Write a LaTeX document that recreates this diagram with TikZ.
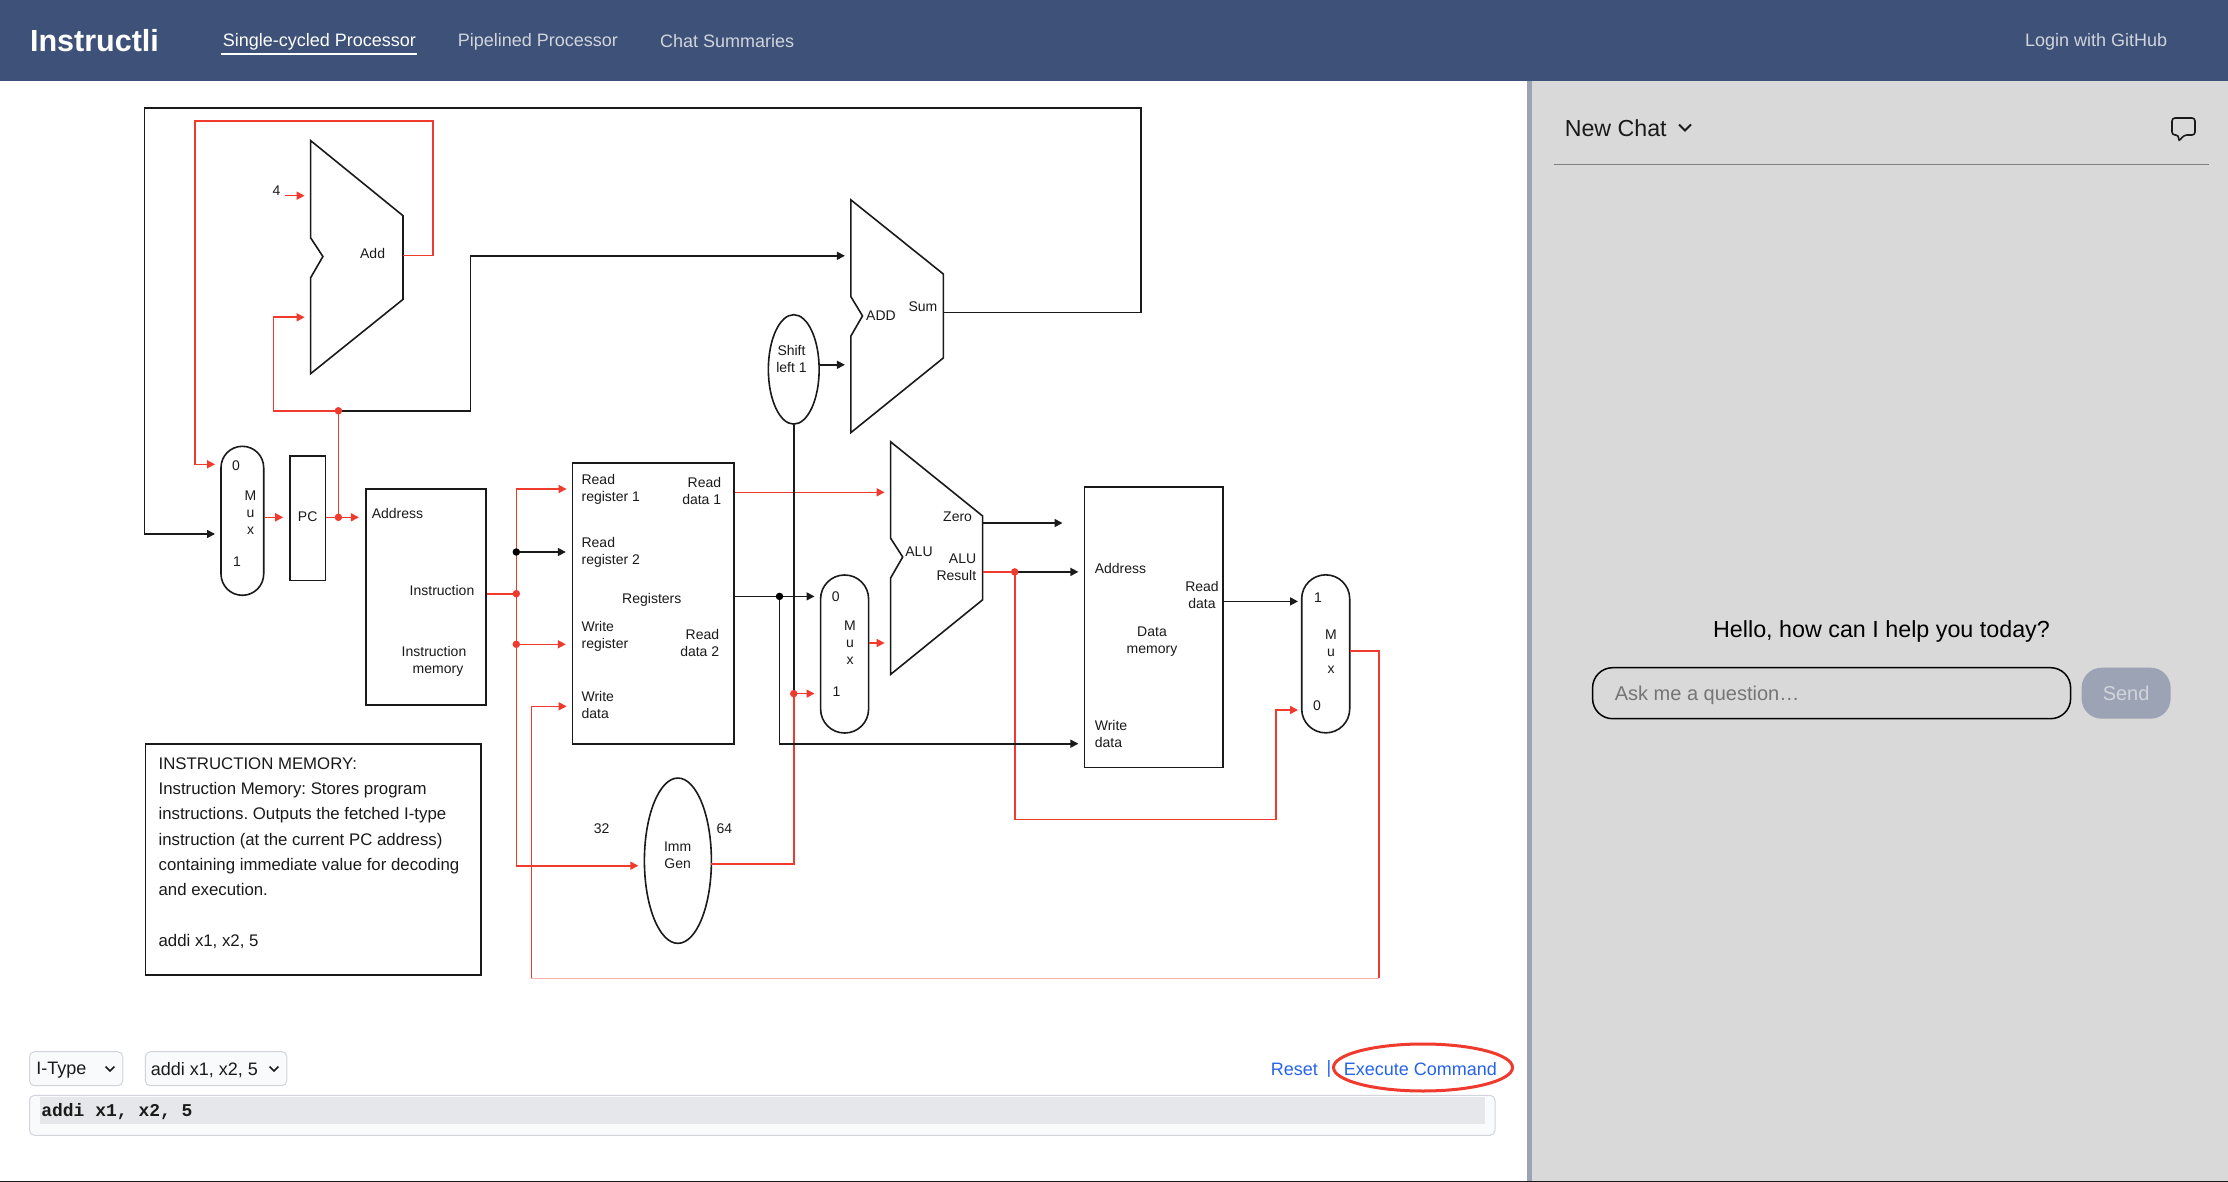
\documentclass[tikz,border=0pt]{standalone}
\usepackage{fontspec}
\setmainfont{Liberation Sans}
\setmonofont{Liberation Mono}
\frenchspacing
\usepackage{tikz}
\usetikzlibrary{arrows.meta,shapes.geometric}
\definecolor{ink}{HTML}{1A1A1A}
\definecolor{wirered}{HTML}{F03A2E}
\definecolor{palered}{HTML}{FFB0AA}
\definecolor{barblue}{HTML}{3D5179}
\definecolor{panegray}{HTML}{D9D9D9}
\definecolor{divider}{HTML}{9CA3B5}
\definecolor{navgray}{HTML}{D1D5DB}
\definecolor{linkblue}{HTML}{2563EB}
\definecolor{boxgray}{HTML}{F9FAFB}
\definecolor{boxline}{HTML}{D1D5DB}
\definecolor{codegray}{HTML}{E5E7EB}
\definecolor{hintgray}{HTML}{757575}

\begin{document}
\begin{tikzpicture}[x=1pt,y=-1pt,>={Triangle[length=8pt,width=8pt]},line width=1.6pt]
	\tikzstyle{block}=[draw=ink,rectangle,inner sep=0pt]
	\tikzstyle{mux}=[block,rounded corners=23.9pt,minimum width=48pt,minimum height=158pt]
	\tikzstyle{oval}=[draw=ink,ellipse,inner sep=0pt]
	\tikzstyle{lbl}=[inner sep=0pt,text=ink,align=center,font=\fontsize{14}{17}\selectfont]
	\tikzstyle{wire}=[draw=ink]
	\tikzstyle{redw}=[draw=wirered]
	\tikzstyle{arr}=[->,shorten >=6pt]
	\tikzstyle{dotr}=[fill=wirered,draw=none,circle,inner sep=0pt,minimum size=7.5pt]
	\tikzstyle{dotk}=[fill=black,draw=none,circle,inner sep=0pt,minimum size=7.5pt]
	\tikzstyle{ui}=[inner sep=0pt,font=\fontsize{18}{21}\selectfont]
	\tikzstyle{selbox}=[draw=boxline,fill=boxgray,rectangle,rounded corners=5pt,line width=1pt,inner sep=0pt,minimum height=34pt]

	\useasboundingbox (0,0) rectangle (2228,1182);
	\fill[white] (0,0) rectangle (2228,1182);
	\fill[panegray] (1532,81) rectangle (2228,1182);
	\fill[divider] (1527.3,81) rectangle (1532.3,1182);
	\fill[barblue] (0,0) rectangle (2228,81);
	\fill[ink] (0,1180.5) rectangle (2228,1182);

	\node[ui,text=white,font=\bfseries\fontsize{30.5}{34}\selectfont] (brand) at (94.5,41) {Instructli};
	\node[ui,text=white,anchor=west] (navsingle) at (222,41.5) {Single-cycled Processor};
	\node[ui,text=navgray,anchor=west] (navpipe) at (457,41.5) {Pipelined Processor};
	\node[ui,text=navgray,anchor=west] (navchat) at (659.3,41.5) {Chat Summaries};
	\node[ui,text=navgray,anchor=east] (login) at (2168,41.5) {Login with GitHub};
	\fill[white] (221,53) rectangle (417.3,55.5);

	\node[mux,rounded corners=21.3pt,minimum width=42.7pt,minimum height=149pt] (muxa) at (242.35,520.8) {};
	\node[block,minimum width=35.3pt,minimum height=124.9pt] (pc) [right of=muxa,node distance=65.3pt,yshift=2.65pt] {};
	\node[block,minimum width=120.3pt,minimum height=216.2pt] (imem) [right of=pc,node distance=118.2pt,yshift=-78.75pt] {};
	\node[block,minimum width=161.3pt,minimum height=281pt] (regs) [right of=imem,node distance=227.4pt,yshift=-6.6pt] {};
	\node[mux] (muxb) [right of=regs,node distance=191.35pt,yshift=-50.5pt] {};
	\node[block,minimum width=138.6pt,minimum height=280.5pt] (dmem) [right of=muxb,node distance=309.1pt,yshift=26.75pt] {};
	\node[mux] (muxc) [right of=dmem,node distance=172pt,yshift=-26.6pt] {};
	\node[oval,minimum width=50.8pt,minimum height=109.4pt] (shift) at (793.75,369.4) {};
	\node[oval,minimum width=67pt,minimum height=165.3pt] (imm) at (677.9,860.7) {};
	\node[block,minimum width=335.6pt,minimum height=231pt] (info) at (313.2,859.5) {};

	\draw[draw=ink] (310.6,140.6) -- (403,215.7) -- (403,299.4) -- (310.6,373.7) -- (310.6,277.8) -- (322.9,256.5) -- (310.6,237.8) -- cycle;
	\draw[draw=ink] (850.9,199.9) -- (943.3,274) -- (943.3,358) -- (850.9,432.6) -- (850.9,336) -- (862.5,315.9) -- (850.9,296.7) -- cycle;
	\draw[draw=ink] (890.6,441.8) -- (982.6,516) -- (982.6,599.8) -- (890.6,674.4) -- (890.6,578) -- (902.7,557) -- (890.6,538.2) -- cycle;

	\node[lbl] (addlbl) at (372.6,253.7) {Add};
	\node[lbl] (four) at (276.5,190.8) {4};
	\node[lbl] (muxa0) at (236,466) {0};
	\node[lbl] (muxalbl) at (250.5,512.4) {M\\u\\x};
	\node[lbl] (muxa1) at (237,561.4) {1};
	\node[lbl] (pclbl) at (307.7,517) {PC};
	\node[lbl,anchor=west] (imaddr) at (371,513) {Address};
	\node[lbl] (imins) at (442,590) {Instruction};
	\node[lbl] (immem) at (434,661) {Instruction\\\hspace*{8pt}memory};
	\node[lbl,anchor=west,align=left] (rr1) at (580.8,489.5) {Read\\register 1};
	\node[lbl,anchor=west,align=left] (rr2) at (580.8,552) {Read\\register 2};
	\node[lbl,anchor=west,align=left] (wr) at (580.8,636) {Write\\register};
	\node[lbl,anchor=west,align=left] (wd) at (580.8,705) {Write\\data};
	\node[lbl] (regslbl) at (651.8,600) {Registers};
	\node[lbl,align=right,anchor=east] (rd1) at (722,490.5) {Read\\data 1};
	\node[lbl,align=right,anchor=east] (rd2) at (720,642.5) {Read\\data 2};
	\node[lbl] (shiftlbl) at (791.5,359) {Shift\\left 1};
	\node[lbl] (immlbl) at (677.6,855) {Imm\\Gen};
	\node[lbl] (w32) at (601.7,828.7) {32};
	\node[lbl] (w64) at (724.3,828.7) {64};
	\node[lbl] (addlbl2) at (881,316) {ADD};
	\node[lbl] (sum) at (923,306.7) {Sum};
	\node[lbl] (alulbl) at (919,552) {ALU};
	\node[lbl] (zero) at (957.6,517) {Zero};
	\node[lbl,align=right,anchor=east] (alures) at (977,567.5) {ALU\\Result};
	\node[lbl] (muxb0l) at (835.7,596.5) {0};
	\node[lbl] (muxblbl) at (850,642.3) {M\\u\\x};
	\node[lbl] (muxb1l) at (836.6,691.3) {1};
	\node[lbl,anchor=west] (dmaddr) at (1094,568.4) {Address};
	\node[lbl] (dmrd) at (1202,595.2) {Read\\data};
	\node[lbl] (dmlbl) at (1152,641.4) {Data\\memory};
	\node[lbl,anchor=west,align=left] (dmwd) at (1094,734.2) {Write\\data};
	\node[lbl] (muxc1) at (1318,597.7) {1};
	\node[lbl] (muxclbl) at (1331,651.7) {M\\u\\x};
	\node[lbl] (muxc0) at (1317,706) {0};

	\node[inner sep=0pt,text=ink,anchor=west,align=left,font=\fontsize{16.8}{25.3}\selectfont] (infotext) at (157.8,853) {INSTRUCTION MEMORY:\\Instruction Memory: Stores program\\instructions. Outputs the fetched I-type\\instruction (at the current PC address)\\containing immediate value for decoding\\and execution.\\[25.3pt]addi x1, x2, 5};

	\coordinate (fourtail) at (285,195.7);
	\coordinate (addone) at (310.6,195.7);
	\coordinate (addtwo) at (310.6,317.3);
	\coordinate (addout) at (403,255.7);
	\coordinate (fbtr) at (433,121);
	\coordinate (fbtl) at (194.7,121);
	\coordinate (muxazero) at (221,464.3);
	\coordinate (muxaone) at (221,534);
	\coordinate (pcjoin) at (338.4,517.3);
	\coordinate (pcsplit) at (338.4,410.8);
	\coordinate (addleft) at (273.5,410.8);
	\coordinate (pcright) at (470.6,410.8);
	\coordinate (addaone) at (850.9,255.8);
	\coordinate (addatwo) at (850.9,364.8);
	\coordinate (sumout) at (943.3,312.4);
	\coordinate (toprt) at (1141,108);
	\coordinate (toplf) at (144.5,108);
	\coordinate (insjoin) at (516.3,593.7);
	\coordinate (rrjoin) at (516.3,552);
	\coordinate (wrjoin) at (516.3,644.3);
	\coordinate (regrone) at (572.6,489);
	\coordinate (immin) at (644.4,865.7);
	\coordinate (regwd) at (572.6,706.3);
	\coordinate (rdone) at (890.6,492.3);
	\coordinate (rdtwo) at (733.9,596.4);
	\coordinate (datajoin) at (779.5,596.4);
	\coordinate (muxbzero) at (820.5,596.4);
	\coordinate (muxbjoin) at (793.75,693.6);
	\coordinate (muxbone) at (820.5,693.6);
	\coordinate (dmemwd) at (1084.4,743.7);
	\coordinate (aluin) at (890.6,643);
	\coordinate (zerotail) at (982.6,523);
	\coordinate (zerotip) at (1068.5,523);
	\coordinate (aluout) at (982.6,571.9);
	\coordinate (alujoin) at (1014.7,571.9);
	\coordinate (dmemaddr) at (1084.4,571.9);
	\coordinate (aluback) at (1014.7,819.3);
	\coordinate (muxcbend) at (1275.7,710);
	\coordinate (muxczero) at (1304,710);
	\coordinate (muxcone) at (1304,601.4);
	\coordinate (muxcout) at (1349.7,651);
	\coordinate (backrt) at (1378.7,978.3);
	\coordinate (backlf) at (531.3,978.3);
	\coordinate (immout) at (711.3,864);

	\draw[redw,arr] (addout) -| (fbtr) -- (fbtl) |- (muxazero);
	\draw[redw,arr] (pcsplit) -- (addleft) |- (addtwo);
	\draw[redw] (pcjoin) -- (pcsplit);
	\draw[redw] (imem.east |- insjoin) -- (insjoin);
	\draw[redw,arr] (insjoin) |- (regrone);
	\draw[redw,arr] (insjoin) |- (immin);
	\draw[redw,arr] (wrjoin) -- (regs.west |- wrjoin);
	\draw[redw] (muxcout) -| (backrt);
	\draw[palered] (backrt) -- (backlf);
	\draw[redw,arr] (backlf) |- (regwd);
	\draw[redw] (immout) -| (muxbjoin);
	\draw[redw,arr] (alujoin) -- (aluback) -| (muxcbend) -- (muxczero);
	\path (fourtail) edge[redw,arr] (addone)
		(muxa.east |- pcjoin) edge[redw,arr] (pc.west |- pcjoin)
		(pc.east |- pcjoin) edge[redw,arr] (imem.west |- pcjoin)
		(regs.east |- rdone) edge[redw,arr] (rdone)
		(muxbjoin) edge[redw,arr] (muxbone)
		(muxb.east |- aluin) edge[redw,arr] (aluin)
		(aluout) edge[redw] (alujoin);

	\draw[wire,arr] (sumout) -| (toprt) -- (toplf) |- (muxaone);
	\draw[wire,arr] (pcsplit) -| (pcright) |- (addaone);
	\draw[wire,arr] (datajoin) |- (dmemwd);
	\path (rrjoin) edge[wire,arr] (regs.west |- rrjoin)
		(rdtwo) edge[wire,arr] (muxbzero)
		(shift.east |- addatwo) edge[wire,arr] (addatwo)
		(shift.south) edge[wire] (muxbjoin)
		(zerotail) edge[wire,arr] (zerotip)
		(alujoin) edge[wire,arr] (dmemaddr)
		(dmem.east |- muxcone) edge[wire,arr] (muxcone);

	\node[dotr] (dotpcjoin) at (pcjoin) {};
	\node[dotr] (dotpcsplit) at (pcsplit) {};
	\node[dotr] (dotins) at (insjoin) {};
	\node[dotr] (dotwr) at (wrjoin) {};
	\node[dotk] (dotrr) at (rrjoin) {};
	\node[dotk] (dotdata) at (datajoin) {};
	\node[dotr] (dotmuxb) at (muxbjoin) {};
	\node[dotr] (dotalu) at (alujoin) {};

	\node[selbox,minimum width=93.3pt] (seltype) at (76.15,1068.7) {};
	\node[selbox,minimum width=141.4pt] (selcmd) at (216.1,1068.7) {};
	\node[ui,text=ink,anchor=west] (seltypetext) at (35.5,1070) {I-Type};
	\node[ui,text=ink,anchor=west] (selcmdtext) at (150,1070) {addi x1, x2, 5};
	\draw[ink,line width=1.5pt] (105.5,1066.5) -- (110,1071) -- (114.5,1066.5);
	\draw[ink,line width=1.5pt] (269.5,1066.5) -- (274,1071) -- (278.5,1066.5);
	\node[ui,text=linkblue,anchor=west] (reset) at (1270,1069) {Reset};
	\node[ui,text=linkblue] (pipe) at (1329,1069) {|};
	\node[ui,text=linkblue,anchor=west] (exec) at (1343,1069) {Execute Command};
	\node[draw=wirered,ellipse,line width=3pt,inner sep=0pt,minimum width=179pt,minimum height=47pt] (execring) at (1423,1067.5) {};
	\node[selbox,minimum width=1465.5pt,minimum height=40pt] (codebox) at (762.25,1115.3) {};
	\fill[codegray] (40.3,1097) rectangle (1485,1123.7);
	\node[inner sep=0pt,text=ink,anchor=west,font=\ttfamily\bfseries\fontsize{18}{21}\selectfont] (codetext) at (40.5,1111.5) {addi x1, x2, 5};

	\node[ui,text=ink,anchor=west,font=\fontsize{23.2}{26}\selectfont] (newchat) at (1564,128.7) {New Chat};
	\draw[ink,line width=1.8pt] (1679,124.5) -- (1685,130.5) -- (1691,124.5);
	\draw[ink,line width=1.6pt,rounded corners=3pt] (2172,118) -- (2195,118) -- (2195,135) -- (2184,135) -- (2178.6,141.7) -- (2178.6,135) -- (2172,135) -- cycle;
	\draw[draw=gray,line width=1pt] (1554,164.3) -- (2209,164.3);
	\node[ui,text=black,font=\fontsize{23.3}{27}\selectfont] (hello) at (1881.5,631) {Hello, how can I help you today?};
	\node[draw=black,rectangle,rounded corners=20pt,line width=1.5pt,inner sep=0pt,minimum width=478pt,minimum height=51pt] (askbox) at (1831.6,693.2) {};
	\node[ui,text=hintgray,anchor=west,font=\fontsize{20}{23}\selectfont] (asktext) at (1614,695) {Ask me a question…};
	\node[fill=divider,rectangle,rounded corners=20pt,text=boxline,font=\fontsize{20}{23}\selectfont,inner sep=0pt,minimum width=89pt,minimum height=51pt] (send) at (2126.1,693.2) {Send};
\end{tikzpicture}
\end{document}
